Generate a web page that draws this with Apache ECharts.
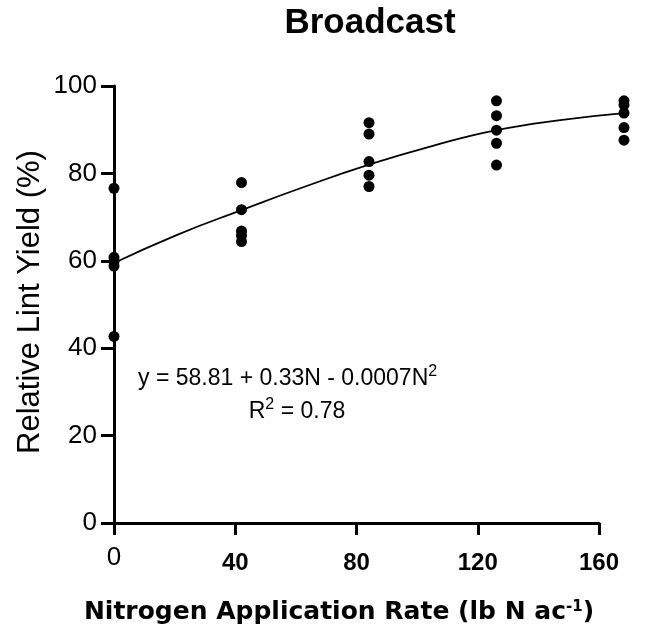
<!DOCTYPE html>
<html>
<head>
<meta charset="utf-8">
<script src="https://cdn.jsdelivr.net/npm/echarts@6/dist/echarts.min.js"></script>
<style>
html,body{margin:0;padding:0;background:#fff;}
#main{width:649px;height:633px;}
</style>
</head>
<body>
<div id="main"></div>
<script>
// N rates and relative lint yield (%)
const rates = [0, 40, 80, 120, 160];
const yieldN0 = [76.6, 60.8, 59.8, 58.8, 42.7];
const yieldN40 = [77.9, 71.7, 66.8, 65.8, 64.4];
const yieldN80 = [91.6, 89.0, 82.7, 79.6, 77.0];
const yieldN120 = [96.6, 93.2, 89.9, 86.9, 81.9];
const yieldN160 = [96.6, 95.7, 93.8, 90.5, 87.6];
// fitted quadratic curve
const curveN = [0, 20, 40, 60, 80, 100, 120, 140, 160];
const curveY = [59.5, 66.0, 71.6, 77.0, 82.0, 86.3, 89.9, 92.2, 93.8];
const xTicks = [0, 40, 80, 120, 160];
const yTicks = [0, 20, 40, 60, 80, 100];

const allYields = [yieldN0, yieldN40, yieldN80, yieldN120, yieldN160];
let pts = [];
for (let i = 0; i < rates.length; i++) {
    for (let j = 0; j < allYields[i].length; j++) {
        pts.push([rates[i], allYields[i][j]]);
    }
}
let curve = curveN.map(function (n, i) { return [n, curveY[i]]; });

const font = 'Liberation Sans, Arial, sans-serif';
let myChart = echarts.init(document.getElementById('main'));
let option = {
    backgroundColor: '#fff',
    animation: false,
    grid: [
        {left: 114, top: 86, width: 485, height: 437},
        {left: 114, top: 86, width: 510, height: 437}
    ],
    xAxis: [
        {
            gridIndex: 0, type: 'value', min: 0, max: 160, interval: 40,
            axisLine: {show: true, lineStyle: {color: '#000', width: 3}},
            axisTick: {show: true, length: 12, lineStyle: {color: '#000', width: 3}},
            splitLine: {show: false},
            axisLabel: {
                margin: 22,
                formatter: function (v) { return v === 0 ? '{r|0}' : '{b|' + v + '}'; },
                rich: {
                    r: {fontFamily: font, fontSize: 26, color: '#000'},
                    b: {fontFamily: font, fontSize: 24, fontWeight: 'bold', color: '#000', padding: [6, 0, 0, 0]}
                }
            }
        },
        {
            gridIndex: 1, type: 'value', min: 0, max: 160, show: false
        }
    ],
    yAxis: [
        {
            gridIndex: 0, type: 'value', min: 0, max: 100, interval: 20,
            axisLine: {show: true, lineStyle: {color: '#000', width: 3}},
            axisTick: {show: true, length: 13, lineStyle: {color: '#000', width: 3}},
            splitLine: {show: false},
            axisLabel: {margin: 17, fontFamily: font, fontSize: 26, color: '#000'}
        },
        {
            gridIndex: 1, type: 'value', min: 0, max: 100, show: false
        }
    ],
    graphic: [
        {
            type: 'text', x: 370, y: 23,
            style: {text: 'Broadcast', font: 'bold 35px ' + font, fill: '#000', align: 'center', verticalAlign: 'middle'}
        },
        {
            type: 'text', x: 30, y: 302, rotation: Math.PI / 2,
            style: {text: 'Relative Lint Yield (%)', font: '31px ' + font, fill: '#000', align: 'center', verticalAlign: 'middle'}
        },
        {
            type: 'text', x: 339, y: 612,
            style: {
                text: '{t|Nitrogen Application Rate (lb N ac}{s|-1}{t|)}',
                align: 'center', verticalAlign: 'middle',
                rich: {
                    t: {fontFamily: 'DejaVu Sans', fontSize: 25, fontWeight: 'bold', fill: '#000', verticalAlign: 'bottom'},
                    s: {fontFamily: 'DejaVu Sans', fontSize: 15, fontWeight: 'bold', fill: '#000', verticalAlign: 'top'}
                }
            }
        },
        {
            type: 'text', x: 138, y: 377,
            style: {
                text: '{t|y = 58.81 + 0.33N - 0.0007N}{s|2}',
                align: 'left', verticalAlign: 'middle',
                rich: {
                    t: {fontFamily: font, fontSize: 23, fill: '#000', verticalAlign: 'bottom', padding: [4, 0, 0, 0]},
                    s: {fontFamily: font, fontSize: 16, fill: '#000', verticalAlign: 'top'}
                }
            }
        },
        {
            type: 'text', x: 297, y: 410,
            style: {
                text: '{t|R}{s|2}{t| = 0.78}',
                align: 'center', verticalAlign: 'middle',
                rich: {
                    t: {fontFamily: font, fontSize: 23, fill: '#000', verticalAlign: 'bottom', padding: [4, 0, 0, 0]},
                    s: {fontFamily: font, fontSize: 16, fill: '#000', verticalAlign: 'top'}
                }
            }
        }
    ],
    series: [
        {
            name: 'fit', type: 'line', xAxisIndex: 1, yAxisIndex: 1,
            data: curve, smooth: true, showSymbol: false,
            lineStyle: {color: '#000', width: 1.8}, z: 2
        },
        {
            name: 'obs', type: 'scatter', xAxisIndex: 1, yAxisIndex: 1,
            data: pts, symbol: 'circle', symbolSize: 11,
            itemStyle: {color: '#000', opacity: 1}, z: 3
        }
    ]
};
myChart.setOption(option);
</script>
</body>
</html>
